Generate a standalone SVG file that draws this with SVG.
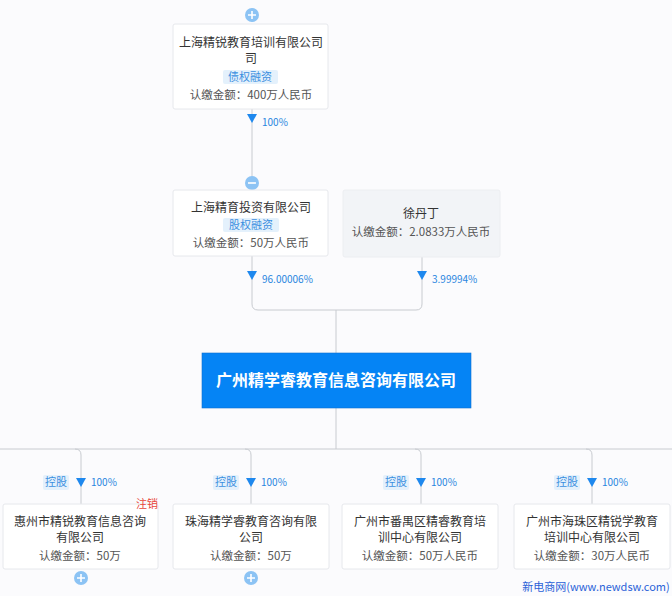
<svg xmlns="http://www.w3.org/2000/svg" width="672" height="596" viewBox="0 0 672 596">
<defs>
<style>
.t{font-family:"Noto Sans CJK SC","Liberation Sans",sans-serif;}
.name{font-size:12px;fill:#333;text-anchor:middle;}
.amt{font-size:11.5px;fill:#555;text-anchor:middle;}
.pct{font-size:10px;fill:#2a86e0;}
.tagtx{font-size:11px;fill:#3b8fe0;text-anchor:middle;}
.tag{fill:#e4f1fc;}
.box{fill:#ffffff;stroke:#e6e8ec;stroke-width:1;}
.gbox{fill:#f2f4f7;stroke:#eceef1;stroke-width:1;}
.ln{fill:none;stroke:#c8cbd0;stroke-width:1;}
.arr{fill:#1e88ee;}
.btn{fill:#8cc3f4;}
</style>
</defs>
<rect width="672" height="596" fill="#fbfbfd"/>
<g id="connectors">
<path class="ln" d="M252 109 V176"/>
<path class="ln" d="M252 256 V304 Q252 310 258 310 H416 Q422 310 422 304 V257"/>
<path class="ln" d="M336 310 V353"/>
<path class="ln" d="M336 408 V449"/>
<path class="ln" d="M0 449 H672"/>
<path class="ln" d="M75 449 Q81 449 81 455 V504"/>
<path class="ln" d="M245 449 Q251 449 251 455 V504"/>
<path class="ln" d="M415 449 Q421 449 421 455 V504"/>
<path class="ln" d="M586 449 Q592 449 592 455 V504"/>
<path class="arr" d="M247 114 H257 L252 123 Z"/>
<text class="t pct" x="262" y="126">100%</text>
<path class="arr" d="M247 271 H257 L252 280 Z"/>
<text class="t pct" x="262" y="283">96.00006%</text>
<path class="arr" d="M417 271 H427 L422 280 Z"/>
<text class="t pct" x="432" y="283">3.99994%</text>
<path class="arr" d="M76 478 H86 L81 487 Z"/>
<rect class="tag" x="43" y="475" width="26" height="15" rx="2"/>
<text class="t tagtx" x="56" y="486">控股</text>
<text class="t pct" x="91" y="486">100%</text>
<path class="arr" d="M246 478 H256 L251 487 Z"/>
<rect class="tag" x="213" y="475" width="26" height="15" rx="2"/>
<text class="t tagtx" x="226" y="486">控股</text>
<text class="t pct" x="261" y="486">100%</text>
<path class="arr" d="M416 478 H426 L421 487 Z"/>
<rect class="tag" x="383" y="475" width="26" height="15" rx="2"/>
<text class="t tagtx" x="396" y="486">控股</text>
<text class="t pct" x="431" y="486">100%</text>
<path class="arr" d="M587 478 H597 L592 487 Z"/>
<rect class="tag" x="554" y="475" width="26" height="15" rx="2"/>
<text class="t tagtx" x="567" y="486">控股</text>
<text class="t pct" x="602" y="486">100%</text>
</g>
<g id="node-shanghai-jingrui">
<circle class="btn" cx="252" cy="15" r="7"/>
<path d="M248 15 H256 M252 11 V19" stroke="#fff" stroke-width="1.6"/>
<rect class="box" x="173" y="24" width="155" height="85" rx="2"/>
<text class="t name" x="251" y="47">上海精锐教育培训有限公司</text>
<text class="t name" x="251" y="63">司</text>
<rect class="tag" x="223" y="70" width="55" height="14" rx="2"/>
<text class="t tagtx" x="250" y="81">债权融资</text>
<text class="t amt" x="251" y="99">认缴金额：400万人民币</text>
</g>
<g id="node-shanghai-jingyu">
<circle class="btn" cx="252" cy="183" r="7"/>
<path d="M248 183 H256" stroke="#fff" stroke-width="1.6"/>
<rect class="box" x="173" y="190" width="155" height="66" rx="2"/>
<text class="t name" x="251" y="212">上海精育投资有限公司</text>
<rect class="tag" x="223" y="218" width="56" height="14" rx="2"/>
<text class="t tagtx" x="251" y="229">股权融资</text>
<text class="t amt" x="251" y="247">认缴金额：50万人民币</text>
</g>
<g id="node-xudanding">
<rect class="gbox" x="343" y="190" width="157" height="67" rx="2"/>
<text class="t name" x="421" y="218">徐丹丁</text>
<text class="t amt" x="421" y="236">认缴金额：2.0833万人民币</text>
</g>
<g id="node-main">
<rect x="202" y="353" width="269" height="55" fill="#0584f5" stroke="#1070d0" stroke-width="0.6"/>
<text class="t" x="336" y="386" font-size="16" font-weight="bold" fill="#fff" text-anchor="middle">广州精学睿教育信息咨询有限公司</text>
</g>
<g id="node-huizhou">
<rect class="box" x="3" y="504" width="155" height="65" rx="2"/>
<text class="t" x="147" y="508" font-size="11" fill="#e8463a" text-anchor="middle">注销</text>
<text class="t name" x="80" y="526">惠州市精锐教育信息咨询</text>
<text class="t name" x="80" y="542">有限公司</text>
<text class="t amt" x="80" y="560">认缴金额：50万</text>
<circle class="btn" cx="81" cy="578" r="7"/>
<path d="M77 578 H85 M81 574 V582" stroke="#fff" stroke-width="1.6"/>
</g>
<g id="node-zhuhai">
<rect class="box" x="173" y="504" width="156" height="65" rx="2"/>
<text class="t name" x="251" y="526">珠海精学睿教育咨询有限</text>
<text class="t name" x="251" y="542">公司</text>
<text class="t amt" x="251" y="560">认缴金额：50万</text>
<circle class="btn" cx="251" cy="578" r="7"/>
<path d="M247 578 H255 M251 574 V582" stroke="#fff" stroke-width="1.6"/>
</g>
<g id="node-panyu">
<rect class="box" x="342" y="504" width="156" height="65" rx="2"/>
<text class="t name" x="420" y="526">广州市番禺区精睿教育培</text>
<text class="t name" x="420" y="542">训中心有限公司</text>
<text class="t amt" x="420" y="560">认缴金额：50万人民币</text>
</g>
<g id="node-haizhu">
<rect class="box" x="514" y="504" width="156" height="65" rx="2"/>
<text class="t name" x="592" y="526">广州市海珠区精锐学教育</text>
<text class="t name" x="592" y="542">培训中心有限公司</text>
<text class="t amt" x="592" y="560">认缴金额：30万人民币</text>
</g>
<text class="t" x="596" y="591" font-size="11" fill="#2a62d8" text-anchor="middle">新电商网(www.newdsw.com)</text>
</svg>
